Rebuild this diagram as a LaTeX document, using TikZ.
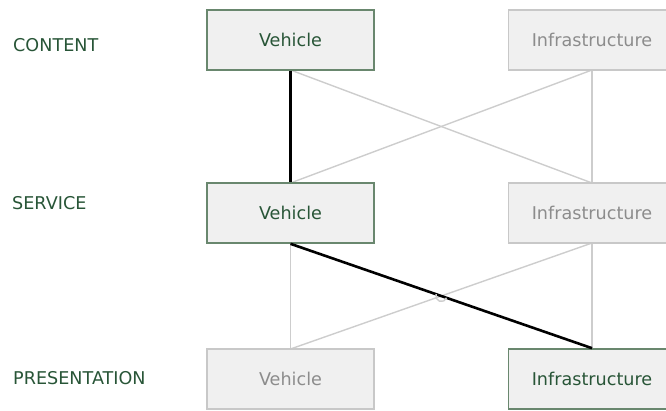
\documentclass[tikz,border=0pt]{standalone}
\usepackage{fontspec}
\setmainfont{DejaVu Sans}
\begin{document}
\begin{tikzpicture}[x=1pt,y=-1pt,
  every node/.style={font=\fontsize{17.6}{20}\selectfont},
  boxon/.style={draw=boxedge,fill=boxfill,line width=1.6pt,minimum width=167pt,minimum height=60pt,inner sep=0pt,text=darkgreen},
  boxoff/.style={draw=greyedge,fill=boxfill,line width=1.3pt,minimum width=167pt,minimum height=60pt,inner sep=0pt,text=greytext},
  rowlabel/.style={anchor=west,text=darkgreen,inner sep=0pt,font=\fontsize{17.6}{20}\selectfont},
  linkon/.style={line width=2.6pt,black},
  linkoff/.style={line width=1.4pt,greyline}
]
\definecolor{darkgreen}{RGB}{40,85,55}
\definecolor{boxedge}{RGB}{105,135,110}
\definecolor{boxfill}{RGB}{240,240,240}
\definecolor{greyedge}{RGB}{200,200,200}
\definecolor{greytext}{RGB}{140,140,140}
\definecolor{greyline}{RGB}{205,205,205}
\useasboundingbox (0,0) rectangle (666,411);

\node[rowlabel] (lc) at (13,45) {CONTENT};
\node[rowlabel] (ls) at (12,203) {SERVICE};
\node[rowlabel] (lp) at (13,378) {PRESENTATION};

% gray links first
\draw[linkoff] (290.5,70) -- (592,183);
\draw[linkoff] (592,70) -- (290.5,183);
\draw[linkoff] (592,70) -- (592,183);
\draw[linkoff] (290.5,243) -- (290.5,349);
\draw[linkoff] (592,243) -- (592,349);
\draw[linkoff] (290.5,349) -- (592,243);

\node[boxon] (cv) at (290.5,40) {Vehicle};
\node[boxoff] (ci) at (592,40) {Infrastructure};
\node[boxon] (sv) at (290.5,213) {Vehicle};
\node[boxoff] (si) at (592,213) {Infrastructure};
\node[boxoff] (pv) at (290.5,379) {Vehicle};
\node[boxon] (pi) at (592,379) {Infrastructure};

\draw[linkon] (cv.south) -- (sv.north);
\draw[linkon] (sv.south) -- (pi.north);
\coordinate (X) at (intersection of sv.south--pi.north and pv.north--si.south);
\draw[linkoff] ([shift={(199.3:5.5)}]X) arc[start angle=199.3,end angle=19.3,radius=5.5];
\end{tikzpicture}
\end{document}
